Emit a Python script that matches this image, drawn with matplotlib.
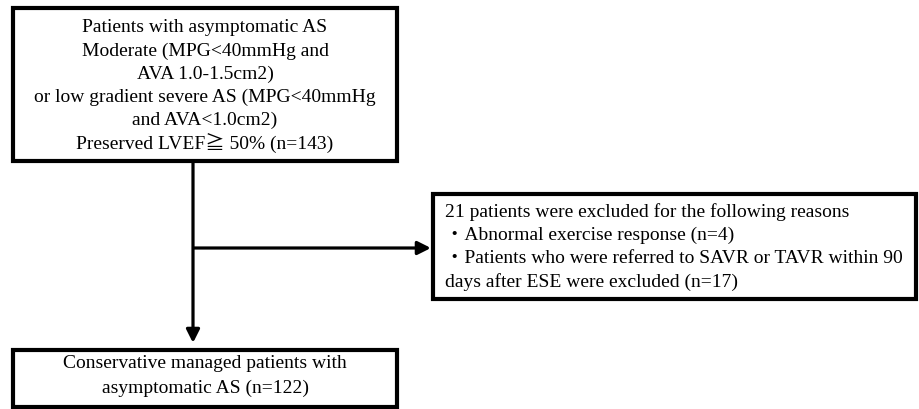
"""
Patient flow chart: asymptomatic AS cohort -> exclusions -> conservative managed.

Output: out.png (919x409)
"""
import matplotlib.pyplot as plt
from matplotlib.patches import Rectangle, FancyArrowPatch


# ---- Text content ----
TOP_LINES = [
    "Patients with asymptomatic AS",
    "Moderate (MPG<40mmHg and",
    "AVA 1.0-1.5cm2)",
    "or low gradient severe AS (MPG<40mmHg",
    "and AVA<1.0cm2)",
    "Preserved LVEF\u2267 50% (n=143)",
]
EXCLUDED_N = 21
EXCL_REASONS = ["Abnormal exercise response (n=4)",
                "Patients who were referred to SAVR or TAVR within 90"]
EXCL_TAIL = "days after ESE were excluded (n=17)"
BOTTOM_LINES = ["Conservative managed patients with",
                "asymptomatic AS (n=122)"]

# ---- Style ----
FONT = ["Liberation Serif", "Noto Sans CJK JP", "DejaVu Serif"]
FS = 14
BOX_LW = 3.0
LINE_LW = 2.3


def draw_box(ax, x0, y0, x1, y1):
    ax.add_patch(Rectangle((x0, y0), x1 - x0, y1 - y0, fill=False,
                           edgecolor="black", linewidth=BOX_LW,
                           joinstyle="miter", clip_on=False))


def draw_arrow(ax, x1, y1, x2, y2):
    ax.add_patch(FancyArrowPatch((x1, y1), (x2, y2), arrowstyle="-|>",
                                 mutation_scale=20, linewidth=LINE_LW,
                                 color="black", shrinkA=0, shrinkB=0,
                                 capstyle="butt"))


def main():
    fig = plt.figure(figsize=(9.19, 4.09), dpi=100)
    ax = fig.add_axes([0, 0, 1, 1])
    ax.set_xlim(0, 919)
    ax.set_ylim(409, 0)
    ax.axis("off")

    # top box
    draw_box(ax, 13, 8, 397, 161)
    top_y = 28
    for i, line in enumerate(TOP_LINES):
        ax.text(205, top_y + i * 23.2, line, ha="center", va="center",
                fontsize=FS, family=FONT)

    # connector arrows
    draw_arrow(ax, 193, 161, 193, 343)
    draw_arrow(ax, 193, 248, 431, 248)

    # exclusion box
    draw_box(ax, 433, 194, 916, 299)
    excl_lines = [f"{EXCLUDED_N} patients were excluded for the following reasons"]
    excl_lines += ["\u30fb" + r for r in EXCL_REASONS]
    excl_lines.append(EXCL_TAIL)
    for i, line in enumerate(excl_lines):
        ax.text(445, 212 + i * 23.2, line, ha="left", va="center",
                fontsize=FS, family=FONT)

    # bottom box
    draw_box(ax, 13, 350, 397, 407)
    for i, line in enumerate(BOTTOM_LINES):
        ax.text(205, 363 + i * 25, line, ha="center", va="center",
                fontsize=FS, family=FONT)

    fig.savefig("out.png", dpi=100, facecolor="white")
    plt.close(fig)


if __name__ == "__main__":
    main()
